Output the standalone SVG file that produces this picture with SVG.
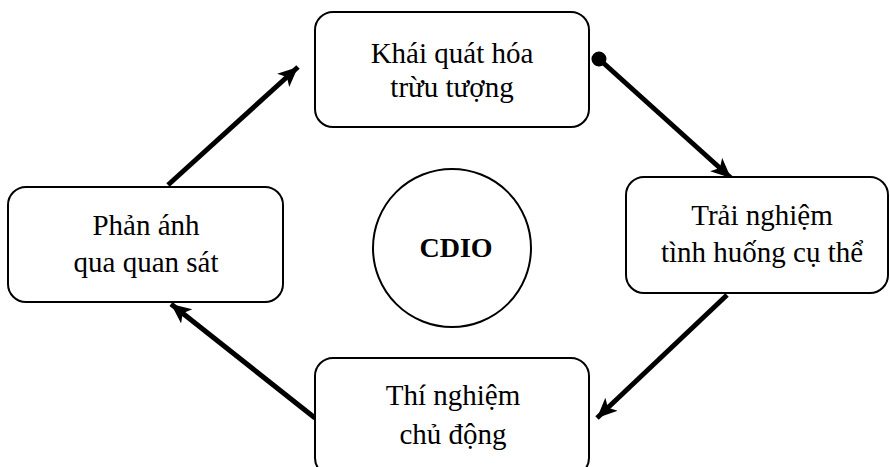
<svg xmlns="http://www.w3.org/2000/svg" width="890" height="467" viewBox="0 0 890 467">
  <style>
    .box { fill: #ffffff; stroke: #000000; stroke-width: 2; }
    .lbl { font-family: "Liberation Serif", "Times New Roman", serif; font-size: 29px; fill: #000000; text-anchor: middle; }
    .core { font-family: "Liberation Serif", "Times New Roman", serif; font-size: 28px; font-weight: bold; fill: #000000; text-anchor: middle; }
    .link { stroke: #000000; stroke-width: 5; fill: none; }
  </style>
  <defs>
    <marker id="head" markerUnits="userSpaceOnUse" markerWidth="24" markerHeight="20" refX="20" refY="9" orient="auto">
      <path d="M0,0 L20,9 L0,18 L5,9 Z" fill="#000000"/>
    </marker>
    <marker id="dot" markerUnits="userSpaceOnUse" markerWidth="18" markerHeight="18" refX="9" refY="9" orient="auto">
      <circle cx="9" cy="9" r="7.5" fill="#000000"/>
    </marker>
  </defs>
  <rect width="890" height="467" fill="#ffffff"/>

  <!-- cycle connectors -->
  <g id="connectors">
    <line class="link" x1="168" y1="185" x2="298" y2="67" marker-end="url(#head)"/>
    <line class="link" x1="599" y1="59" x2="731" y2="178" marker-start="url(#dot)" marker-end="url(#head)"/>
    <line class="link" x1="727" y1="295" x2="597" y2="418" marker-end="url(#head)"/>
    <line class="link" x1="315" y1="418" x2="171" y2="304" marker-end="url(#head)"/>
  </g>

  <g id="node-abstract">
    <rect class="box" x="315" y="12" width="274" height="115" rx="18"/>
    <text class="lbl" x="452" y="63">Khái quát hóa</text>
    <text class="lbl" x="452" y="97">trừu tượng</text>
  </g>

  <g id="node-experience">
    <rect class="box" x="626" y="177" width="262" height="116" rx="18"/>
    <text class="lbl" x="762" y="225">Trải nghiệm</text>
    <text class="lbl" x="762" y="262">tình huống cụ thể</text>
  </g>

  <g id="node-experiment">
    <rect class="box" x="315" y="358" width="274" height="118" rx="18"/>
    <text class="lbl" x="453" y="405">Thí nghiệm</text>
    <text class="lbl" x="453" y="444">chủ động</text>
  </g>

  <g id="node-reflect">
    <rect class="box" x="8" y="187" width="275" height="115" rx="18"/>
    <text class="lbl" x="146" y="235">Phản ánh</text>
    <text class="lbl" x="146" y="272">qua quan sát</text>
  </g>

  <g id="node-cdio">
    <circle class="box" cx="452" cy="248" r="79"/>
    <text class="core" x="456" y="257">CDIO</text>
  </g>
</svg>
